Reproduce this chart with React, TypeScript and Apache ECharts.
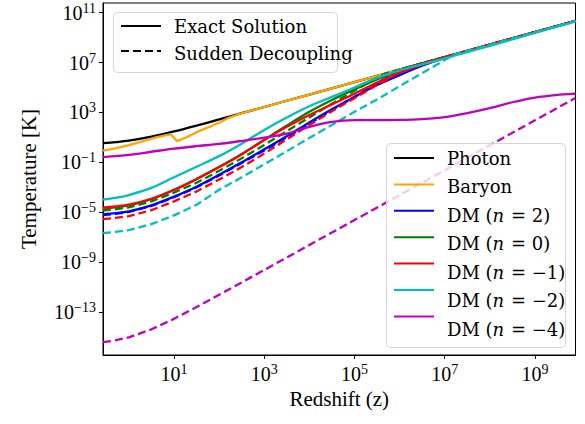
import React, { useEffect, useRef } from "react";
import * as echarts from "echarts";

// x = log10(redshift z), y = log10(temperature / K)
const xTicks = [1, 3, 5, 7, 9];
const yTicks = [-13, -9, -5, -1, 3, 7, 11];

const photon = [[-0.574,0.54],[-0.3,0.62],[0,0.74],[0.5,1.06],[1,1.48],[1.5,1.95],[2,2.44],[2.5,2.94],[3,3.44],[4,4.44],[5,5.44],[6,6.44],[7,7.44],[8,8.44],[9,9.44],[9.9,10.34]];
const baryon = [[-0.574,-0.05],[-0.3,0.13],[0,0.38],[0.3,0.68],[0.6,1.0],[0.8,1.16],[0.93,1.24],[1.07,0.7],[1.3,1.05],[1.5,1.42],[1.8,1.87],[2.02,2.22],[2.2,2.55],[2.4,2.82],[2.6,3.04],[3,3.44],[4,4.44],[5,5.44],[6,6.44],[7,7.44],[8,8.44],[9,9.44],[9.9,10.34]];
const dmN2 = [[-0.574,-5.18],[-0.3,-5.08],[0,-4.93],[0.5,-4.45],[1,-3.75],[1.5,-2.95],[2,-2.0],[2.5,-1.0],[3,0.05],[3.5,1.1],[4,2.2],[4.5,3.25],[5,4.25],[5.5,5.2],[6,6.0],[6.5,6.75],[7,7.38],[7.5,7.92],[8,8.44],[9,9.44],[9.9,10.34]];
const dmN0 = [[-0.574,-4.72],[-0.3,-4.6],[0,-4.45],[0.5,-3.95],[1,-3.22],[1.5,-2.35],[2,-1.38],[2.5,-0.35],[3,0.8],[3.5,1.95],[4,3.05],[4.5,4.0],[5,4.85],[5.5,5.65],[6,6.35],[6.5,6.92],[7,7.44],[8,8.44],[9,9.44],[9.9,10.34]];
const dmNm1 = [[-0.574,-4.64],[-0.3,-4.54],[0,-4.4],[0.5,-3.92],[1,-3.2],[1.5,-2.33],[2,-1.38],[2.5,-0.35],[3,0.8],[3.5,1.85],[4,2.8],[4.5,3.65],[5,4.5],[5.5,5.4],[6,6.2],[6.5,6.83],[7,7.4],[7.5,7.93],[8,8.44],[9,9.44],[9.9,10.34]];
const dmNm2 = [[-0.574,-3.98],[-0.3,-3.85],[0,-3.62],[0.5,-3.05],[1,-2.2],[1.5,-1.35],[2,-0.5],[2.5,0.5],[3,1.6],[3.5,2.6],[4,3.5],[4.5,4.25],[5,5.0],[5.5,5.78],[6,6.38],[6.5,6.86],[7,7.34],[7.5,7.84],[8,8.35],[8.5,8.86],[9,9.38],[9.5,9.9],[9.9,10.3]];
const dmNm4 = [[-0.574,-0.58],[0,-0.4],[0.5,-0.15],[1,0.1],[1.5,0.3],[2,0.48],[2.5,0.72],[3,0.98],[3.5,1.3],[4,1.85],[4.5,2.25],[5,2.38],[5.5,2.38],[6,2.4],[6.5,2.47],[7,2.62],[7.5,2.95],[8,3.35],[8.5,3.82],[9,4.2],[9.5,4.42],[9.9,4.52]];

const sdN2 = [[-0.574,-5.23],[-0.3,-5.13],[0,-4.98],[0.5,-4.5],[1,-3.8],[1.5,-3.0],[2,-2.05],[2.5,-1.05],[3,-0.05],[3.5,1.0],[4,2.1],[4.5,3.2],[5,4.25],[5.5,5.35],[6,6.435],[7,7.44],[8,8.44],[9,9.44],[9.9,10.34]];
const sdN0 = [[-0.574,-4.86],[-0.3,-4.76],[0,-4.61],[0.5,-4.13],[1,-3.43],[1.5,-2.63],[2,-1.68],[2.5,-0.68],[3,0.4],[3.5,1.5],[4,2.6],[4.5,3.7],[5,4.75],[5.5,5.78],[5.7,6.135],[6,6.44],[7,7.44],[8,8.44],[9,9.44],[9.9,10.34]];
const sdNm1 = [[-0.574,-5.56],[-0.3,-5.46],[0,-5.31],[0.5,-4.83],[1,-4.13],[1.5,-3.33],[2,-2.38],[2.5,-1.38],[3,-0.3],[3.5,0.85],[4,2.0],[4.5,3.1],[5,4.15],[5.5,5.2],[6,6.2],[6.3,6.735],[7,7.44],[8,8.44],[9,9.44],[9.9,10.34]];
const sdNm2 = [[-0.574,-6.68],[-0.3,-6.58],[0,-6.43],[0.5,-5.95],[1,-5.25],[1.5,-4.4],[2,-3.2],[2.5,-2.2],[3,-1.15],[3.5,-0.1],[4,0.95],[4.5,2.0],[5,3.05],[5.5,4.05],[6,5.1],[6.5,6.15],[7,7.2],[7.2,7.635],[8,8.44],[9,9.44],[9.9,10.34]];
const sdNm4 = [[-0.574,-15.42],[-0.3,-15.28],[0,-15.03],[0.5,-14.39],[1,-13.55],[1.5,-12.6],[2,-11.62],[2.5,-10.63],[3,-9.63],[4,-7.63],[5,-5.63],[6,-3.63],[7,-1.63],[8,0.37],[9,2.37],[9.9,4.17]];

const styleNames = ["Exact Solution", "Sudden Decoupling"];
const speciesNames = ["Photon", "Baryon", "DM (n = 2)", "DM (n = 0)", "DM (n = \u22121)", "DM (n = \u22122)", "DM (n = \u22124)"];

const FONT = "Liberation Serif";
const LEG_FONT = "DejaVu Serif";
const LEG_SIZE = 18;

function sup(v: number) {
  const e = v < 0 ? "\u2212" + Math.abs(v) : String(v);
  return `{b|10}{s|${e}}`;
}

const labelRich = {
  b: { fontFamily: FONT, fontSize: 20, color: "#000" },
  s: { fontFamily: FONT, fontSize: 14, color: "#000", padding: [0, 0, 9, 0] },
};

function line(name: string, data: number[][], color: string, dashed: boolean, smooth: number | boolean) {
  return {
    type: "line",
    name,
    data,
    symbol: "none",
    showSymbol: false,
    smooth,
    silent: true,
    z: 2,
    lineStyle: { color, width: 2.3, type: dashed ? [8, 4] : "solid" },
    itemStyle: { color },
  };
}

const legendCommon = {
  orient: "vertical",
  itemWidth: 40,
  itemHeight: 21,
  padding: 0,
  selectedMode: false,
  z: 6,
  itemStyle: { color: "rgba(0,0,0,0)", borderWidth: 0, opacity: 0 },
  formatter: () => "",
  textStyle: { fontSize: 1 },
};

function legendBox(x: number, y: number, w: number, h: number) {
  return {
    type: "rect",
    shape: { x, y, width: w, height: h, r: 4 },
    style: { fill: "rgba(255,255,255,0.8)", stroke: "#d6d6d6", lineWidth: 1 },
    z: 5,
    silent: true,
  };
}

function textPiece(text: string, x: number, y: number, italic: boolean) {
  return {
    type: "text",
    x,
    y,
    z: 7,
    silent: true,
    style: {
      text,
      fontFamily: LEG_FONT,
      fontSize: LEG_SIZE,
      fontStyle: italic ? "italic" : "normal",
      fontWeight: "normal",
      fill: "#000",
      textVerticalAlign: "middle",
      verticalAlign: "middle",
      align: "left",
    },
  };
}

export default function App() {
  const ref = useRef<HTMLDivElement>(null);
  useEffect(() => {
    document.body.style.margin = "0";
    const ctx = document.createElement("canvas").getContext("2d")!;
    const measure = (t: string, italic: boolean) => {
      ctx.font = `${italic ? "italic " : ""}${LEG_SIZE}px '${LEG_FONT}'`;
      return ctx.measureText(t).width;
    };
    const legendLabel = (name: string, x: number, y: number): any[] => {
      const m = name.match(/^DM \(n = (.*)\)$/);
      if (!m) return [textPiece(name, x, y, false)];
      const a = "DM (";
      const b = "n";
      const c = ` = ${m[1]})`;
      const wa = measure(a, false);
      const wb = measure(b, true);
      return [textPiece(a, x, y, false), textPiece(b, x + wa, y, true), textPiece(c, x + wa + wb + 1, y, false)];
    };

    const chart = echarts.init(ref.current!, null, { renderer: "svg" });
    const graphics: any[] = [legendBox(113.5, 12.5, 224, 60), legendBox(386.5, 143.5, 179, 204)];
    styleNames.forEach((n, k) => graphics.push(...legendLabel(n, 174, 26 + k * 27)));
    speciesNames.forEach((n, k) => graphics.push(...legendLabel(n, 447, 158 + k * 28.5)));
    const option: any = {
      animation: false,
      backgroundColor: "#fff",
      textStyle: { fontFamily: FONT, color: "#000" },
      grid: {
        left: 103,
        top: 3,
        width: 472.5,
        height: 352,
        show: true,
        borderColor: "#000",
        borderWidth: 1,
        outerBoundsMode: "none",
      },
      xAxis: {
        type: "value",
        min: -0.574,
        max: 9.9,
        name: "Redshift (z)",
        nameLocation: "middle",
        nameGap: 31,
        nameTextStyle: { fontFamily: FONT, fontSize: 21, color: "#000" },
        axisLine: { onZero: false, lineStyle: { color: "#000", width: 1 } },
        splitLine: { show: false },
        axisTick: { customValues: xTicks, length: 4, lineStyle: { color: "#000" } },
        axisLabel: { customValues: xTicks, margin: 7, formatter: (v: number) => sup(v), rich: labelRich },
      },
      yAxis: {
        type: "value",
        min: -16.45,
        max: 11.78,
        name: "Temperature [K]",
        nameLocation: "middle",
        nameGap: 64,
        nameTextStyle: { fontFamily: FONT, fontSize: 21, color: "#000" },
        axisLine: { show: true, onZero: false, lineStyle: { color: "#000", width: 1 } },
        splitLine: { show: false },
        axisTick: { show: true, customValues: yTicks, length: 4, lineStyle: { color: "#000" } },
        axisLabel: { customValues: yTicks, margin: 7, formatter: (v: number) => sup(v), rich: labelRich },
      },
      legend: [
        { ...legendCommon, data: styleNames, left: 120, top: 15.5, itemGap: 6 },
        { ...legendCommon, data: speciesNames, left: 393, top: 147.5, itemGap: 7.5 },
      ],
      graphic: graphics,
      series: [
        line("Exact Solution", [], "#000", false, false),
        line("Sudden Decoupling", [], "#000", true, false),
        line("Photon", photon, "#000000", false, 0.3),
        line("Baryon", baryon, "#FFA500", false, false),
        line("DM (n = 2)", dmN2, "#0000FF", false, 0.3),
        line("SD (n = 2)", sdN2, "#0000FF", true, false),
        line("DM (n = 0)", dmN0, "#008000", false, 0.3),
        line("SD (n = 0)", sdN0, "#008000", true, false),
        line("DM (n = \u22121)", dmNm1, "#FF0000", false, 0.3),
        line("SD (n = \u22121)", sdNm1, "#FF0000", true, false),
        line("DM (n = \u22122)", dmNm2, "#00BFBF", false, 0.3),
        line("SD (n = \u22122)", sdNm2, "#00BFBF", true, false),
        line("DM (n = \u22124)", dmNm4, "#BF00BF", false, 0.3),
        line("SD (n = \u22124)", sdNm4, "#BF00BF", true, false),
      ],
    };
    chart.setOption(option);
    return () => chart.dispose();
  }, []);
  return <div ref={ref} style={{ position: "fixed", left: 0, top: 0, width: 585, height: 424 }} />;
}
